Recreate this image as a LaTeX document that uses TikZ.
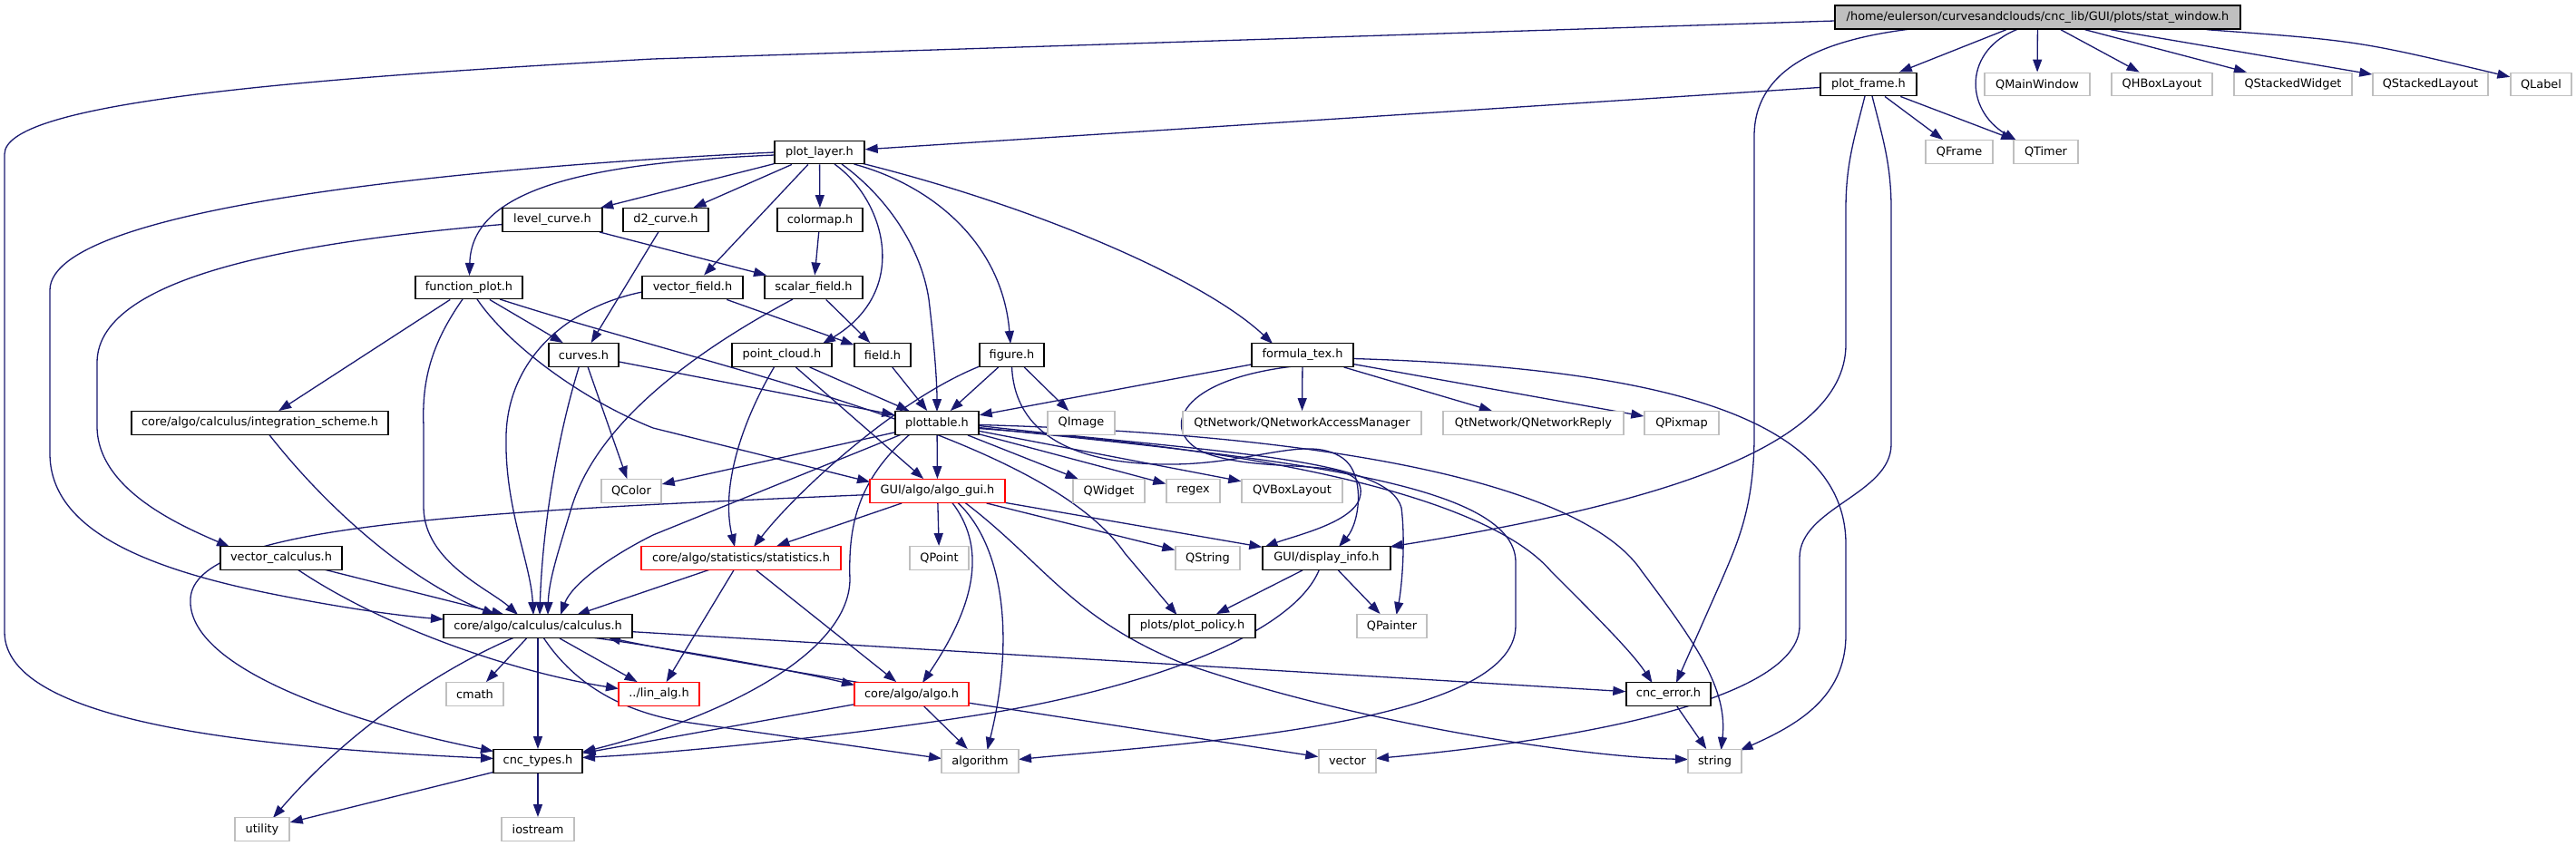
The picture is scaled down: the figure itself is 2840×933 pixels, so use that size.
\documentclass[tikz,border=0pt]{standalone}
\usepackage{fontspec}
\setmainfont{DejaVu Sans}
\usetikzlibrary{arrows.meta,calc}
\definecolor{edgeblue}{HTML}{191970}
\definecolor{grayline}{HTML}{BFBFBF}
\definecolor{mainfill}{HTML}{BFBFBF}
\pgfdeclarelayer{bg}
\pgfsetlayers{bg,main}
\begin{document}
\begin{tikzpicture}[x=1pt,y=-1pt,
  font=\fontsize{12.9}{15}\selectfont,
  nbase/.style={rectangle, inner sep=0pt, minimum height=25.5pt, line width=1.4pt, fill=white, anchor=center},
  blk/.style={nbase, draw=black},
  gry/.style={nbase, draw=grayline},
  redb/.style={nbase, draw=red},
  mainb/.style={nbase, draw=black, fill=mainfill, minimum height=26pt},
  edg/.style={draw=edgeblue, line width=1.3pt, -{Triangle[length=14pt,width=10pt]}}]
\useasboundingbox (0,0) rectangle (2840,933);
% row 0
\node[mainb, minimum width=447pt] (main) at (2246.5,19) {/home/eulerson/curvesandclouds/cnc\_lib/GUI/plots/stat\_window.h};
% row 1
\node[blk, minimum width=106pt] (pf) at (2060,93) {plot\_frame.h};
\node[gry, minimum width=116pt] (qmw) at (2246,93) {QMainWindow};
\node[gry, minimum width=111pt] (qhb) at (2383.5,93) {QHBoxLayout};
\node[gry, minimum width=130pt] (qsw) at (2528,93) {QStackedWidget};
\node[gry, minimum width=127pt] (qsl) at (2679.5,93) {QStackedLayout};
\node[gry, minimum width=67pt] (qlab) at (2801.5,93) {QLabel};
% row 2
\node[blk, minimum width=99pt] (pl) at (903.5,168) {plot\_layer.h};
\node[gry, minimum width=74pt] (qfr) at (2160,167.5) {QFrame};
\node[gry, minimum width=71pt] (qti) at (2255.5,167.5) {QTimer};
% row 3
\node[blk, minimum width=110pt] (lc) at (609,242.5) {level\_curve.h};
\node[blk, minimum width=94pt] (d2) at (734,242.5) {d2\_curve.h};
\node[blk, minimum width=94pt] (cm) at (904,242.5) {colormap.h};
% row 4
\node[blk, minimum width=118pt] (fp) at (517,317) {function\_plot.h};
\node[blk, minimum width=111pt] (vf) at (763.5,317) {vector\_field.h};
\node[blk, minimum width=108pt] (sf) at (897,317) {scalar\_field.h};
% row 5
\node[blk, minimum width=77pt] (cu) at (643.5,391.5) {curves.h};
\node[blk, minimum width=110pt] (pc) at (862,391.5) {point\_cloud.h};
\node[blk, minimum width=62pt] (fi) at (973,391.5) {field.h};
\node[blk, minimum width=71pt] (fg) at (1115.5,391.5) {figure.h};
\node[blk, minimum width=112pt] (ft) at (1436,391.5) {formula\_tex.h};
% row 6
\node[blk, minimum width=283pt] (isch) at (286.5,466.5) {core/algo/calculus/integration\_scheme.h};
\node[blk, minimum width=92pt] (ptb) at (1033,466.5) {plottable.h};
\node[gry, minimum width=74pt] (qim) at (1192,466.5) {QImage};
\node[gry, minimum width=263pt] (qnam) at (1435.5,466.5) {QtNetwork/QNetworkAccessManager};
\node[gry, minimum width=199pt] (qnr) at (1690.5,466.5) {QtNetwork/QNetworkReply};
\node[gry, minimum width=82pt] (qpx) at (1854,466.5) {QPixmap};
% row 7
\node[gry, minimum width=66pt] (qco) at (696,541.5) {QColor};
\node[redb, minimum width=149pt] (ag) at (1033.5,541.5) {GUI/algo/algo\_gui.h};
\node[gry, minimum width=79pt] (qwi) at (1222.5,541.5) {QWidget};
\node[gry, minimum width=59pt] (rgx) at (1315.5,541.5) {regex};
\node[gry, minimum width=111pt] (qvb) at (1424.5,541.5) {QVBoxLayout};
% row 8
\node[blk, minimum width=134pt] (vc) at (310,615.5) {vector\_calculus.h};
\node[redb, minimum width=220pt] (st) at (817,615.5) {core/algo/statistics/statistics.h};
\node[gry, minimum width=65pt] (qpo) at (1035.5,615.5) {QPoint};
\node[gry, minimum width=71pt] (qst) at (1331.5,615.5) {QString};
\node[blk, minimum width=141pt] (di) at (1462.5,615.5) {GUI/display\_info.h};
% row 9
\node[blk, minimum width=208pt] (ca) at (593,690.5) {core/algo/calculus/calculus.h};
\node[blk, minimum width=139pt] (pp) at (1314.5,690.5) {plots/plot\_policy.h};
\node[gry, minimum width=77pt] (qpa) at (1534.5,690.5) {QPainter};
% row 10
\node[gry, minimum width=63pt] (cmath) at (523.5,765.5) {cmath};
\node[redb, minimum width=89pt] (la) at (726.5,765.5) {../lin\_alg.h};
\node[redb, minimum width=126pt] (al) at (1005,765.5) {core/algo/algo.h};
\node[blk, minimum width=93pt] (ce) at (1839.5,765.5) {cnc\_error.h};
% row 11
\node[blk, minimum width=98pt] (ct) at (593,839.5) {cnc\_types.h};
\node[gry, minimum width=85pt] (alg) at (1080.5,839.5) {algorithm};
\node[gry, minimum width=63pt] (vec) at (1485.5,839.5) {vector};
\node[gry, minimum width=59pt] (str) at (1890.5,839.5) {string};
% row 12
\node[gry, minimum width=60pt] (uti) at (289,914.5) {utility};
\node[gry, minimum width=80pt] (ios) at (593,914.5) {iostream};

\begin{pgfonlayer}{bg}
% main
\draw[edg] ($(main)+(-223.5,4)$) -- (720,65) .. controls (300,88) and (5,115) .. (5,170) -- (5,697) .. controls (5,800) and (300,825) .. ($(ct)+(-49,-3)$);
\draw[edg] (main) -- (pf);
\draw[edg] (main) -- (qmw);
\draw[edg] (main) -- (qhb);
\draw[edg] (main) -- (qsw);
\draw[edg] (main) -- (qsl);
\draw[edg] (main) .. controls (2600,45) .. (qlab);
\draw[edg] ($(main)+(-21.5,13)$) .. controls (2165,55) and (2165,120) .. ($(qti)+(-32.5,-12.5)$);
\draw[edg] ($(main)+(-140,13)$) .. controls (2000,45) and (1934,80) .. (1934,150) -- (1934,480) .. controls (1934,560) and (1915,600) .. (1898,640) -- ($(ce)+(8.5,-12.5)$);
% plot_frame
\draw[edg] (pf) -- (pl);
\draw[edg] (pf) -- (qfr);
\draw[edg] (pf) -- (qti);
\draw[edg] ($(pf)+(-4,13)$) .. controls (2045,150) and (2035,180) .. (2035,230) -- (2035,380) .. controls (2035,500) and (1800,560) .. ($(di)+(70,-12.5)$);
\draw[edg] ($(pf)+(4,13)$) .. controls (2075,150) and (2085,180) .. (2085,230) -- (2085,490) .. controls (2085,545) and (1984,560) .. (1984,615) -- (1984,690) .. controls (1984,770) and (1750,815) .. ($(vec)+(31.5,-3)$);
% plot_layer
\draw[edg] (pl) -- (lc);
\draw[edg] (pl) -- (d2);
\draw[edg] (pl) -- (cm);
\draw[edg] (pl) -- (vf);
\draw[edg] ($(pl)+(16.5,13)$) .. controls (975,220) and (1005,320) .. ($(pc)+(45,-12.5)$);
\draw[edg] ($(pl)+(24.5,13)$) .. controls (975,215) and (1015,270) .. (1024,330) .. controls (1030,380) and (1033,420) .. ($(ptb)+(0,-12.5)$);
\draw[edg] ($(pl)+(38,13)$) .. controls (1030,205) and (1105,270) .. ($(fg)+(-1.5,-12.5)$);
\draw[edg] ($(pl)+(46,12)$) .. controls (1150,230) and (1330,310) .. ($(ft)+(-33,-12.5)$);
\draw[edg] ($(pl)+(-49.5,3)$) .. controls (640,180) and (520,210) .. ($(fp)+(0.5,-13)$);
\draw[edg] ($(pl)+(-49.5,0)$) .. controls (600,180) and (55,220) .. (55,320) -- (55,500) .. controls (55,580) and (150,625) .. (300,655) .. controls (380,671) and (440,679) .. ($(ca)+(-104,-7.5)$);
% level_curve, d2_curve, colormap
\draw[edg] ($(lc)+(-55,5)$) .. controls (350,265) and (107,300) .. (107,400) -- (107,470) .. controls (107,540) and (200,580) .. ($(vc)+(-57,-12.5)$);
\draw[edg] (lc) -- (sf);
\draw[edg] (d2) -- (cu);
\draw[edg] (cm) -- (sf);
% function_plot
\draw[edg] (fp) -- (isch);
\draw[edg] ($(fp)+(-7,13)$) .. controls (475,380) and (465,420) .. (467,470) -- (467,560) .. controls (468,620) and (540,650) .. ($(ca)+(-22,-12.5)$);
\draw[edg] (fp) -- (cu);
\draw[edg] ($(fp)+(9,13)$) .. controls (560,380) and (640,440) .. (720,472) -- ($(ag)+(-74.5,-10)$);
\draw[edg] ($(fp)+(34,13)$) .. controls (800,410) and (1150,480) .. (1240,610) -- ($(pp)+(-17,-12.5)$);
% vector_field, scalar_field
\draw[edg] (vf) -- (fi);
\draw[edg] ($(vf)+(-55.5,5)$) .. controls (620,340) and (560,400) .. (558,480) .. controls (556,560) and (585,620) .. ($(ca)+(-5,-12.5)$);
\draw[edg] (sf) -- (fi);
\draw[edg] ($(sf)+(-23,13)$) .. controls (780,380) and (660,460) .. (630,560) .. controls (615,610) and (605,640) .. ($(ca)+(11,-12.5)$);
% curves
\draw[edg] (cu) -- (ptb);
\draw[edg] (cu) -- (qco);
\draw[edg] ($(cu)+(-5,12.5)$) .. controls (615,480) and (598,580) .. ($(ca)+(2,-12.5)$);
% point_cloud, field
\draw[edg] (pc) -- (ptb);
\draw[edg] (pc) -- (ag);
\draw[edg] ($(pc)+(-8,12.5)$) .. controls (815,470) and (795,540) .. ($(st)+(-7,-12.5)$);
\draw[edg] (fi) -- (ptb);
% figure
\draw[edg] (fg) -- (ptb);
\draw[edg] (fg) -- (qim);
\draw[edg] ($(fg)+(-35.5,12.5)$) .. controls (990,440) and (880,540) .. ($(st)+(14,-12.5)$);
\draw[edg] ($(fg)+(0,12.5)$) .. controls (1118,470) and (1170,510) .. (1280,512) .. controls (1380,514) and (1440,478) .. (1480,505) .. controls (1505,522) and (1500,575) .. ($(di)+(13.5,-12.5)$);
% formula_tex
\draw[edg] (ft) -- (ptb);
\draw[edg] (ft) -- (qnam);
\draw[edg] (ft) -- (qnr);
\draw[edg] (ft) -- (qpx);
\draw[edg] ($(ft)+(56,4)$) .. controls (1800,405) and (2035,450) .. (2035,600) -- (2035,700) .. controls (2035,770) and (1980,800) .. ($(str)+(28,-12)$);
\draw[edg] ($(ft)+(-10,12.5)$) .. controls (1290,420) and (1280,480) .. (1330,500) .. controls (1400,525) and (1505,500) .. (1500,545) .. controls (1497,575) and (1430,590) .. ($(di)+(-68,-12.5)$);
% plottable
\draw[edg] (ptb) -- (qco);
\draw[edg] ($(ptb)+(-39,12.5)$) -- (720,590) .. controls (670,615) and (630,645) .. ($(ca)+(25,-12.5)$);
\draw[edg] ($(ptb)+(-30,12.5)$) .. controls (945,530) and (935,580) .. (937,640) .. controls (935,720) and (800,790) .. ($(ct)+(49,-10)$);
\draw[edg] (ptb) -- (ag);
\draw[edg] (ptb) -- (qwi);
\draw[edg] (ptb) -- (rgx);
\draw[edg] (ptb) -- (qvb);
\draw[edg] ($(ptb)+(46,3)$) .. controls (1350,500) and (1530,505) .. (1545,560) .. controls (1550,600) and (1545,650) .. ($(qpa)+(5,-12.5)$);
\draw[edg] ($(ptb)+(46,5)$) .. controls (1400,505) and (1671,530) .. (1671,620) -- (1671,690) .. controls (1671,800) and (1300,820) .. ($(alg)+(42.5,-2)$);
\draw[edg] ($(ptb)+(46,6)$) .. controls (1450,500) and (1650,560) .. (1710,630) .. controls (1760,680) and (1800,720) .. ($(ce)+(-18,-12.5)$);
\draw[edg] ($(ptb)+(46,2)$) .. controls (1500,480) and (1750,540) .. (1810,630) .. controls (1870,710) and (1905,760) .. ($(str)+(7,-12.5)$);
% algo_gui
\draw[edg] ($(ag)+(-74.5,4)$) .. controls (500,565) and (215,580) .. (210,660) .. controls (205,740) and (400,800) .. ($(ct)+(-49,-11)$);
\draw[edg] (ag) -- (st);
\draw[edg] (ag) -- (qpo);
\draw[edg] (ag) -- (qst);
\draw[edg] (ag) -- (di);
\draw[edg] ($(ag)+(16,12.5)$) .. controls (1085,600) and (1080,660) .. ($(al)+(12,-12.5)$);
\draw[edg] ($(ag)+(22,12.5)$) .. controls (1105,600) and (1120,700) .. ($(alg)+(8,-12.5)$);
\draw[edg] ($(ag)+(30,12.5)$) .. controls (1150,620) and (1180,680) .. (1300,730) .. controls (1500,800) and (1750,835) .. ($(str)+(-29.5,-2)$);
% statistics
\draw[edg] ($(st)+(-34,12.5)$) -- ($(ca)+(43,-12.5)$);
\draw[edg] (st) -- (la);
\draw[edg] (st) -- (al);
% vector_calculus, integration_scheme
\draw[edg] ($(vc)+(47,12.5)$) -- ($(ca)+(-37,-12.5)$);
\draw[edg] ($(vc)+(18,12.5)$) .. controls (420,690) and (560,740) .. ($(la)+(-44.5,-6)$);
\draw[edg] ($(isch)+(10,12.5)$) .. controls (360,560) and (450,640) .. ($(ca)+(-47,-12.5)$);
% display_info
\draw[edg] (di) -- (pp);
\draw[edg] ($(di)+(-8,12.5)$) .. controls (1430,690) and (1300,750) .. (1100,785) .. controls (950,810) and (750,830) .. ($(ct)+(49,-4)$);
\draw[edg] (di) -- (qpa);
% calculus
\draw[edg] ($(ca)+(-26,12.5)$) .. controls (480,740) and (380,810) .. ($(uti)+(12,-12.5)$);
\draw[edg] (ca) -- (cmath);
\draw[edg] (ca) -- (ct);
\draw[edg] (ca) -- (la);
\draw[edg] ($(ca)+(59,12.5)$) .. controls (720,712) and (870,738) .. ($(al)+(-63,-10)$);
\draw[edg] ($(al)+(-56,-12.5)$) .. controls (860,738) and (740,718) .. ($(ca)+(77,12.5)$);
\draw[edg] (ca) -- (ce);
\draw[edg] ($(ca)+(6,12.5)$) .. controls (630,750) and (680,785) .. (760,797) -- ($(alg)+(-42.5,-3)$);
% algo, cnc_error, cnc_types
\draw[edg] (al) -- (ct);
\draw[edg] (al) -- (alg);
\draw[edg] (al) -- (vec);
\draw[edg] (ce) -- (str);
\draw[edg] (ct) -- (uti);
\draw[edg] (ct) -- (ios);
\end{pgfonlayer}
\end{tikzpicture}
\end{document}
